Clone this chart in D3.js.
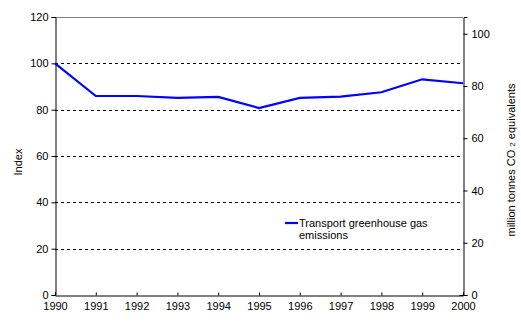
<!DOCTYPE html>
<html><head><meta charset="utf-8">
<script src="https://cdn.jsdelivr.net/npm/d3@7"></script>
<style>body{margin:0;background:#fff;}svg{display:block;font-family:Arial,"Liberation Sans",sans-serif;}</style>
</head><body>
<svg id="c" width="521" height="323"></svg>
<script>
const years = [1990,1991,1992,1993,1994,1995,1996,1997,1998,1999,2000];
const indexValues = [100,85.9,85.9,85.1,85.5,80.7,85.1,85.6,87.5,93.1,91.4];
const leftTicks = [0,20,40,60,80,100,120];
const rightTicks = [0,20,40,60,80,100];
const gridTicks = [20,40,60,80,100];
const seriesName = ["Transport greenhouse gas","emissions"];

const svg = d3.select("#c");
const L=55, R=463, T=17, B=295;
const x = d3.scaleLinear().domain([1990,2000]).range([L,R]);
const y = d3.scaleLinear().domain([0,120]).range([B,T]);
const y2 = d3.scaleLinear().domain([0,106.4]).range([B,T]);

// gridlines
svg.append("g").selectAll("line").data(gridTicks).join("line")
  .attr("x1",L).attr("x2",R).attr("y1",d=>Math.round(y(d))+0.5).attr("y2",d=>Math.round(y(d))+0.5)
  .attr("stroke","#000").attr("stroke-dasharray","3,3").attr("stroke-width",1);
// top border
svg.append("line").attr("x1",L).attr("x2",R).attr("y1",T+0.5).attr("y2",T+0.5).attr("stroke","#808080");

// left axis
const gl = svg.append("g").attr("transform",`translate(${L+0.5},0)`)
  .call(d3.axisLeft(y).tickValues(leftTicks).tickSize(4).tickPadding(3).tickFormat(d3.format("d")));
// right axis
const gr = svg.append("g").attr("transform",`translate(${R+0.5},0)`)
  .call(d3.axisRight(y2).tickValues(rightTicks).tickSize(4).tickPadding(4).tickFormat(d3.format("d")));
// bottom axis
const gb = svg.append("g").attr("transform",`translate(0,${B+0.5})`)
  .call(d3.axisBottom(x).tickValues(years).tickSize(-3).tickPadding(7).tickFormat(d3.format("d")));
[gl,gr,gb].forEach(g=>{
  g.select(".domain").attr("stroke","#000");
  g.selectAll(".tick line").attr("stroke","#000");
  g.selectAll("text").attr("font-size",11).attr("fill","#000").attr("font-family","Arial,'Liberation Sans',sans-serif");
});
gr.selectAll(".tick").filter(d=>d===0).select("line").attr("x1",-4);

// line
svg.append("path").datum(indexValues)
  .attr("d", d3.line().x((d,i)=>x(years[i])).y(d=>y(d)))
  .attr("fill","none").attr("stroke","#0000ff").attr("stroke-width",2.2);

// axis titles
svg.append("text").attr("transform","translate(22,162) rotate(-90)").attr("text-anchor","middle")
  .attr("font-size",11).text("Index");
const rt = svg.append("text").attr("transform","translate(515,160) rotate(-90)").attr("text-anchor","middle")
  .attr("font-size",11);
rt.append("tspan").text("million tonnes CO ");
rt.append("tspan").attr("font-size",8).text("2");
rt.append("tspan").text(" equivalents");

// legend
svg.append("line").attr("x1",285).attr("x2",298).attr("y1",223).attr("y2",223)
  .attr("stroke","#0000ff").attr("stroke-width",2.2);
svg.append("text").attr("x",299).attr("y",227).attr("font-size",11).text(seriesName[0]);
svg.append("text").attr("x",299).attr("y",239).attr("font-size",11).text(seriesName[1]);
</script>
</body></html>
